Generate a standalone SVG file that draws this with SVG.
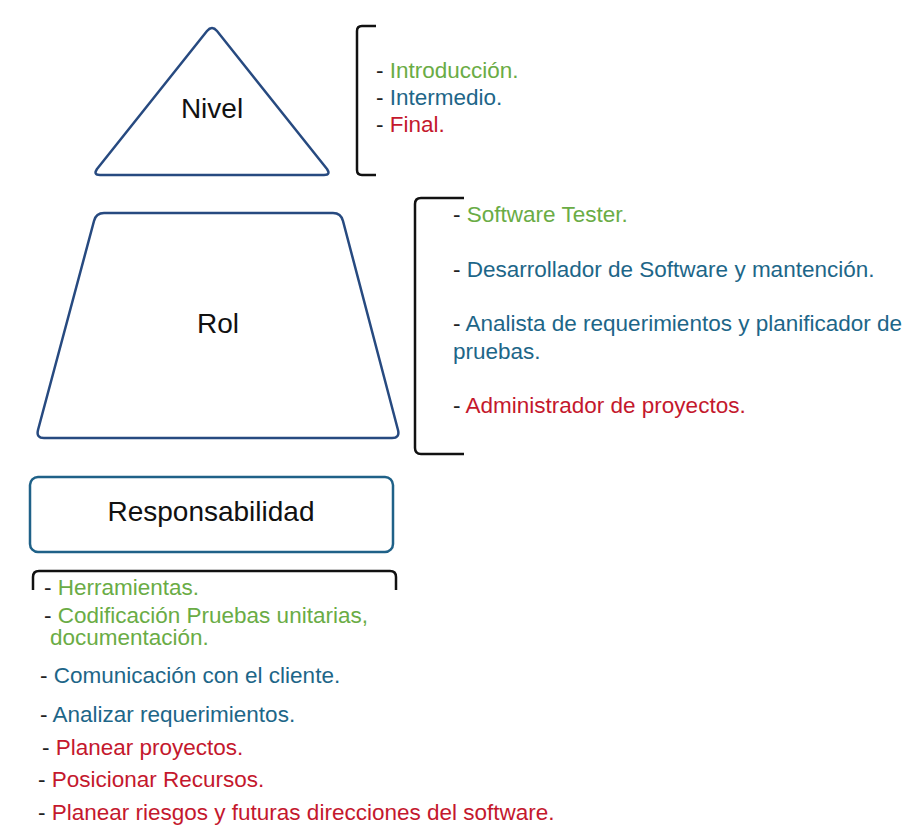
<svg xmlns="http://www.w3.org/2000/svg" width="921" height="829" viewBox="0 0 921 829">
<style>
text{font-family:"Liberation Sans",Arial,sans-serif;}
.lbl{font-size:28px;fill:#111;text-anchor:middle;}
.it{font-size:22.5px;fill:#222;}
.g{fill:#6aac45;}
.b{fill:#1d6688;}
.r{fill:#c4182d;}
.shape{fill:#fff;stroke:#274a80;stroke-width:2.5;stroke-linejoin:round;}
.brk{fill:none;stroke:#111;stroke-width:2.5;}
</style>
<rect width="921" height="829" fill="#fff"/>
<g id="nivel">
<path class="shape" d="M207,31 Q212,25 217,31 L327,169 Q331,175 324,175 L100,175 Q93,175 97,169 Z"/>
<text class="lbl" x="212" y="118">Nivel</text>
</g>
<g id="nivel-list">
<path class="brk" d="M376,26 L362,26 Q357,26 357,31 L357,170 Q357,175 362,175 L376,175"/>
<text class="it" x="376" y="78">- <tspan class="g">Introducción.</tspan></text>
<text class="it" x="376" y="105">- <tspan class="b">Intermedio.</tspan></text>
<text class="it" x="376" y="132">- <tspan class="r">Final.</tspan></text>
</g>
<g id="rol">
<path class="shape" d="M104,213 L333,213 Q341,213 343,221 L398,430 Q400,438 392,438 L44,438 Q36,438 38,430 L94,221 Q96,213 104,213 Z"/>
<text class="lbl" x="218" y="333">Rol</text>
</g>
<g id="rol-list">
<path class="brk" d="M464,198 L421,198 Q415,198 415,204 L415,448 Q415,454 421,454 L464,454"/>
<text class="it" x="453" y="222">- <tspan class="g">Software Tester.</tspan></text>
<text class="it" x="453" y="277">- <tspan class="b">Desarrollador de Software y mantención.</tspan></text>
<text class="it" x="453" y="331">- <tspan class="b">Analista de requerimientos y planificador de</tspan></text>
<text class="it b" x="453" y="359">pruebas.</text>
<text class="it" x="453" y="413">- <tspan class="r">Administrador de proyectos.</tspan></text>
</g>
<g id="responsabilidad">
<rect x="30" y="477" width="363" height="75" rx="8" fill="#fff" stroke="#1f6188" stroke-width="2.5"/>
<text class="lbl" x="211" y="521">Responsabilidad</text>
</g>
<g id="resp-list">
<path class="brk" d="M33,590 L33,577 Q33,571 39,571 L390,571 Q396,571 396,577 L396,590"/>
<text class="it" x="44" y="595">- <tspan class="g">Herramientas.</tspan></text>
<text class="it" x="44" y="623">- <tspan class="g">Codificación Pruebas unitarias,</tspan></text>
<text class="it g" x="50" y="645">documentación.</text>
<text class="it" x="40" y="683">- <tspan class="b">Comunicación con el cliente.</tspan></text>
<text class="it" x="40" y="722">- <tspan class="b">Analizar requerimientos.</tspan></text>
<text class="it" x="42" y="755">- <tspan class="r">Planear proyectos.</tspan></text>
<text class="it" x="38" y="787">- <tspan class="r">Posicionar Recursos.</tspan></text>
<text class="it" x="38" y="820">- <tspan class="r">Planear riesgos y futuras direcciones del software.</tspan></text>
</g>
</svg>
